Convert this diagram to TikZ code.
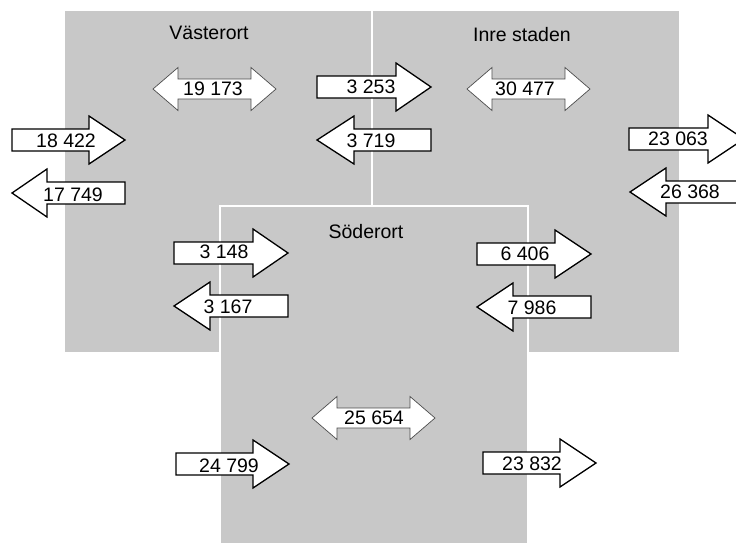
\documentclass[tikz,border=0pt]{standalone}
\usepackage{fontspec}
\setmainfont{Liberation Sans}
\definecolor{areagray}{RGB}{200,200,200}
\tikzset{area/.style={fill=areagray}}
\tikzset{oneway/.style={fill=white, draw=black, line width=1.3pt, line join=miter}}
\tikzset{twoway/.style={fill=white, draw=black!70, line width=0.7pt, line join=miter}}
\tikzset{flowlabel/.style={inner sep=0pt, font=\fontsize{19.5}{21}\selectfont}}
\tikzset{arealabel/.style={inner sep=0pt, font=\fontsize{19.5}{21}\selectfont}}

\begin{document}
\begin{tikzpicture}[x=1pt, y=-1pt]
  \useasboundingbox (0,0) rectangle (736,542);
  \clip (0,0) rectangle (736,542);
  % areas
  \fill[area] (65,11) rectangle (370.5,352);
  \fill[area] (373,11) rectangle (679,352);
  \filldraw[area, draw=white, line width=1.5pt] (220,206) rectangle (528,560);
  \node[arealabel] (vasterort) at (209,33) {Västerort};
  \node[arealabel] (inrestaden) at (522,35) {Inre staden};
  \node[arealabel] (soderort) at (366,232) {Söderort};
  % arrows pointing right: body start, head back, tip
  \foreach \nm/\xa/\xb/\xc/\yc/\tx/\ty/\val in {
      vastin/12/89/125/140/66/140.5/{18 422},
      vastinre/317/396/431/87/371/87/{3 253},
      inreut/629/708/744/139/678/139/{23 063},
      vastsod/174/253/288/253/224/252/{3 148},
      inresod/477/555/591/254/525/254/{6 406},
      sodin/176/253/289/464/229/466/{24 799},
      sodut/483/560/596/463/532/464/{23 832}} {
    \draw[oneway] (\xa,\yc-11) -- (\xb,\yc-11) -- (\xb,\yc-24) -- (\xc,\yc)
      -- (\xb,\yc+24) -- (\xb,\yc+11) -- (\xa,\yc+11) -- cycle;
    \node[flowlabel] (\nm) at (\tx,\ty) {\val};
  }
  % arrows pointing left: tip, head back, body end
  \foreach \nm/\xa/\xb/\xc/\yc/\tx/\ty/\val in {
      vastut/12/47/125/193/73/195/{17 749},
      inrevast/317/354/431/140/371/141/{3 719},
      inrein/630/666/750/192/690/192/{26 368},
      sodvast/174/210/288/306/228/307/{3 167},
      sodinre/477/513/591/307/532/308/{7 986}} {
    \draw[oneway] (\xa,\yc) -- (\xb,\yc-24) -- (\xb,\yc-11) -- (\xc,\yc-11)
      -- (\xc,\yc+11) -- (\xb,\yc+11) -- (\xb,\yc+24) -- cycle;
    \node[flowlabel] (\nm) at (\tx,\ty) {\val};
  }
  % trips within an area
  \foreach \nm/\xa/\xb/\xc/\xd/\yc/\tx/\val in {
      vastint/153/178/251/276/89/213/{19 173},
      inreint/467/492/565/590/89/525/{30 477},
      sodint/312/337/410/435/418/374/{25 654}} {
    \draw[twoway] (\xa,\yc) -- (\xb,\yc-21.5) -- (\xb,\yc-10) -- (\xc,\yc-10)
      -- (\xc,\yc-21.5) -- (\xd,\yc) -- (\xc,\yc+21.5) -- (\xc,\yc+10)
      -- (\xb,\yc+10) -- (\xb,\yc+21.5) -- cycle;
    \node[flowlabel] (\nm) at (\tx,\yc) {\val};
  }
\end{tikzpicture}
\end{document}
